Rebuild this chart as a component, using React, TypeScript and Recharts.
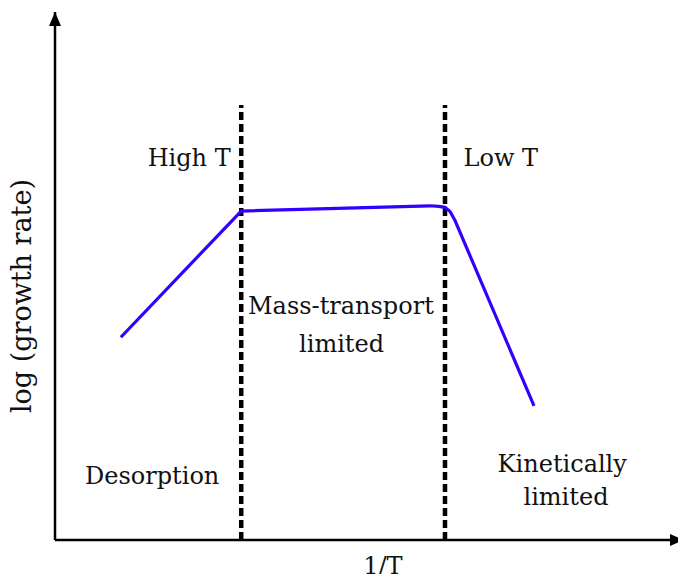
import React from "react";
import { LineChart, Line, XAxis, YAxis, ReferenceLine, ReferenceDot } from "recharts";

const xValues = [1.05, 2.97, 5.98, 6.12, 6.22, 6.3, 6.38, 7.64];
const growthRate = [3.84, 6.23, 6.33, 6.32, 6.3, 6.22, 6.05, 2.54];
const boundaries = [2.97, 6.22];
const boundaryTop = 8.24;

const annotations = [
  { x: 2.14, y: 7.23, text: "High T", angle: 0, size: 24 },
  { x: 7.11, y: 7.23, text: "Low T", angle: 0, size: 24 },
  { x: 4.56, y: 4.43, text: "Mass-transport", angle: 0, size: 24 },
  { x: 4.57, y: 3.71, text: "limited", angle: 0, size: 24 },
  { x: 1.55, y: 1.21, text: "Desorption", angle: 0, size: 24 },
  { x: 8.09, y: 1.44, text: "Kinetically", angle: 0, size: 24 },
  { x: 8.15, y: 0.81, text: "limited", angle: 0, size: 24 },
  { x: 5.23, y: -0.5, text: "1/T", angle: 0, size: 24 },
  { x: -0.53, y: 4.62, text: "log (growth rate)", angle: -90, size: 27 },
];

const data = xValues.map((x, i) => ({ x, rate: growthRate[i] }));

const FONT = "DejaVu Serif";

const TextShape = (text: string, angle: number, size: number) => (props: any) => (
  <text
    x={props.cx}
    y={props.cy}
    textAnchor="middle"
    dominantBaseline="central"
    fontFamily={FONT}
    fontSize={size}
    fill="#111"
    transform={angle ? `rotate(${angle} ${props.cx} ${props.cy})` : undefined}
  >
    {text}
  </text>
);

const UpArrow = (props: any) => (
  <polygon
    points={`${props.cx},${props.cy} ${props.cx - 6},${props.cy + 14} ${props.cx + 6},${props.cy + 14}`}
    fill="#000"
  />
);
const RightArrow = (props: any) => (
  <polygon
    points={`${props.cx + 2},${props.cy} ${props.cx - 12},${props.cy - 6} ${props.cx - 12},${props.cy + 6}`}
    fill="#000"
  />
);

export default function App() {
  return (
    <LineChart
      width={686}
      height={582}
      data={data}
      margin={{ top: 12, right: 4, bottom: 0, left: 0 }}
      style={{ margin: "-8px" }}
    >
      <XAxis
        dataKey="x"
        type="number"
        domain={[0, 10]}
        axisLine={{ stroke: "#000", strokeWidth: 2.5 }}
        tick={false}
        tickLine={false}
        height={42}
      />
      <YAxis
        type="number"
        domain={[0, 10]}
        axisLine={{ stroke: "#000", strokeWidth: 2.5 }}
        tick={false}
        tickLine={false}
        width={55}
      />
      {boundaries.map((b, i) => (
        <ReferenceLine
          key={i}
          segment={[{ x: b, y: 0 }, { x: b, y: boundaryTop }]}
          stroke="#000"
          strokeWidth={4.5}
          strokeDasharray="8 4"
        />
      ))}
      <Line
        type="linear"
        dataKey="rate"
        stroke="#3300ff"
        strokeWidth={3.2}
        dot={false}
        isAnimationActive={false}
      />
      <ReferenceDot x={0} y={10} r={0} shape={UpArrow} ifOverflow="visible" />
      <ReferenceDot x={10} y={0} r={0} shape={RightArrow} ifOverflow="visible" />
      {annotations.map((a, i) => (
        <ReferenceDot key={i} x={a.x} y={a.y} r={0} shape={TextShape(a.text, a.angle, a.size)} ifOverflow="visible" />
      ))}
    </LineChart>
  );
}
